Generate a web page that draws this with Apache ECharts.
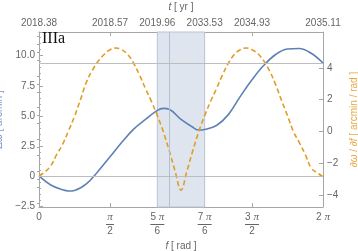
<!DOCTYPE html>
<html><head><meta charset="utf-8">
<script src="https://cdn.jsdelivr.net/npm/echarts@6/dist/echarts.min.js"></script>
<style>html,body{margin:0;padding:0;background:#fff}#c{width:358px;height:251px}</style>
</head><body><div id="c"></div>
<script>
// f sample positions in degrees (converted to rad scale only through the axis)
const blueDeg = [0,15,30,37.5,45,60,75,90,105,120,135,150,157.5,165,180,195,202.5,210,225,240,255,270,285,300,315,330,345,360];
const blueVals = [0,-0.75,-1.15,-1.25,-1.2,-0.65,0.4,1.6,2.8,3.9,4.7,5.45,5.62,5.55,4.7,4.05,3.82,3.87,4.2,5.1,6.6,8.0,9.2,10.1,10.55,10.6,10.2,9.39];
const orangeDeg = [0,7.5,15,22.5,30,37.5,45,52.5,60,67.5,75,82.5,90,97.5,105,112.5,120,127.5,135,142.5,150,157.5,165,172.5,180,187.5,195,202.5,210,217.5,225,232.5,240,247.5,255,262.5,270,277.5,285,292.5,300,307.5,315,322.5,330,337.5,345,352.5,360];
const orangeVals = [-2.80,-2.55,-2.15,-1.45,-0.8,0.05,0.95,2.0,3.1,3.85,4.42,4.85,5.15,5.26,5.15,4.85,4.3,3.55,2.7,1.9,1.0,0.0,-1.2,-2.5,-3.7,-2.5,-1.2,0.0,1.0,1.9,2.7,3.55,4.3,4.85,5.15,5.26,5.15,4.9,4.45,3.8,2.95,1.95,1.0,0.0,-0.7,-1.45,-2.3,-2.6,-2.85];

const xTickDeg = [0,90,150,210,270,360];
const xTickExtra = [180];
const xTickNum = ['0','π/2','5π/6','7π/6','3π/2','2π'];
const topTickLabels = ['2018.38','2018.57','2019.96','2033.53','2034.93','2035.11'];
const bandDeg = [150,210];
const markerDeg = [165.2];
const refLevels = [0, 9.39];
const leftTicks = [-2.5,0,2.5,5,7.5,10];
const rightTicks = [-4,-2,0,2,4];

const BLUE = '#5e81b5', ORANGE = '#e19c24', AX = '#a6a6a6', LBL = '#666';
const FONT = 'Liberation Sans';

function minorList(lo, hi, step, majors){
  const out=[]; for(let v=Math.ceil(lo/step)*step; v<=hi+1e-9; v+=step){
    const r=Math.round(v*100)/100; if(!majors.some(m=>Math.abs(m-r)<1e-6)) out.push(r);} return out;
}
const L_MIN=-2.58, L_MAX=11.97, R_MIN=-4.76, R_MAX=6.27;

function bottomLabel(v){
  const i = xTickDeg.indexOf(v); const s = xTickNum[i];
  if(s==='0') return '{n|0}';
  if(s==='2π') return '{n|2 }{p|π}';
  const [num, den] = s.split('/');
  const coef = num.replace('π','');
  const top = coef ? '{n|'+coef+' }{p|π}' : '{p|π}';
  return top + '\n' + (coef ? '{b2| }' : '{b1| }') + '\n{d|'+den+'}';
}
const richX = {
  n:{fontFamily:FONT,fontSize:10,color:LBL,lineHeight:11},
  p:{fontFamily:'Liberation Serif',fontStyle:'italic',fontSize:11,color:LBL,lineHeight:11},
  d:{fontFamily:FONT,fontSize:10,color:LBL,lineHeight:11},
  b1:{width:8,height:1,lineHeight:3,fontSize:1,backgroundColor:LBL},
  b2:{width:14,height:1,lineHeight:3,fontSize:1,backgroundColor:LBL}
};

const chart = echarts.init(document.getElementById('c'), null, {renderer:'canvas'});
const baseX = {
  type:'value', min:0, max:360,
  axisLine:{show:true,onZero:false,lineStyle:{color:AX,width:1}},
  splitLine:{show:false}
};
const baseY = {type:'value', splitLine:{show:false}, axisLine:{show:true,onZero:false,lineStyle:{color:AX,width:1}}};

chart.setOption({
  animation:false,
  grid:{left:39,right:35,top:32,bottom:44,containLabel:false,outerBoundsMode:'none'},
  graphic:[{type:'text',left:42,top:31,z:10,style:{text:'IIIa',font:'16px "Liberation Serif"',fill:'#111'}}],
  xAxis:[
    Object.assign({},baseX,{position:'bottom',
      axisTick:{inside:true,length:4,customValues:xTickDeg.concat(xTickExtra),lineStyle:{color:AX}},
      axisLabel:{customValues:xTickDeg,margin:5,formatter:bottomLabel,rich:richX,color:LBL,showMinLabel:true,showMaxLabel:true},
      name:'{i|f}{n| [ rad ]}',nameLocation:'middle',nameGap:30,
      nameTextStyle:{rich:{i:{fontFamily:FONT,fontStyle:'italic',fontSize:10,color:LBL},n:{fontFamily:FONT,fontSize:10,color:LBL}}}
    }),
    Object.assign({},baseX,{position:'top',
      axisTick:{inside:true,length:4,customValues:xTickDeg.concat(xTickExtra),lineStyle:{color:AX}},
      axisLabel:{customValues:xTickDeg,margin:4,color:LBL,fontFamily:FONT,fontSize:10,showMinLabel:true,showMaxLabel:true,
        formatter:(v)=>topTickLabels[xTickDeg.indexOf(v)]},
      name:'{i|t}{n| [ yr ]}',nameLocation:'middle',nameGap:20,
      nameTextStyle:{rich:{i:{fontFamily:FONT,fontStyle:'italic',fontSize:10,color:LBL},n:{fontFamily:FONT,fontSize:10,color:LBL}}}
    })
  ],
  yAxis:[
    Object.assign({},baseY,{position:'left',min:L_MIN,max:L_MAX,
      axisTick:{inside:true,length:4,customValues:leftTicks,lineStyle:{color:AX}},
      axisLabel:{customValues:leftTicks,margin:4,color:LBL,fontFamily:FONT,fontSize:10,
        formatter:(v)=> v===0?'0':(v<0?'−':'')+Math.abs(v).toFixed(1)},
      name:'{n|Δ}{i|ω}{n| [ arcmin ]}',nameLocation:'middle',nameGap:29,nameRotate:90,
      nameTextStyle:{rich:{i:{fontFamily:FONT,fontStyle:'italic',fontSize:10,color:'#7b98c6'},n:{fontFamily:FONT,fontSize:10,color:'#7b98c6'}}}
    }),
    Object.assign({},baseY,{position:'right',min:R_MIN,max:R_MAX,
      axisTick:{inside:true,length:4,customValues:rightTicks,lineStyle:{color:AX}},
      axisLabel:{customValues:rightTicks,margin:4,color:LBL,fontFamily:FONT,fontSize:10,
        formatter:(v)=> v<0?'−'+Math.abs(v):''+v},
      name:'{i|∂ω}{n| / }{i|∂f}{n| [ arcmin / rad ]}',nameLocation:'middle',nameGap:22,nameRotate:90,
      nameTextStyle:{rich:{i:{fontFamily:FONT,fontStyle:'italic',fontSize:10,color:'#e8a843'},n:{fontFamily:FONT,fontSize:10,color:'#e8a843'}}}
    }),
    Object.assign({},baseY,{position:'left',min:L_MIN,max:L_MAX,axisLine:{show:false},axisLabel:{show:false},
      axisTick:{inside:true,length:2,customValues:minorList(L_MIN,L_MAX,0.5,leftTicks),lineStyle:{color:AX}}}),
    Object.assign({},baseY,{position:'right',min:R_MIN,max:R_MAX,axisLine:{show:false},axisLabel:{show:false},
      axisTick:{inside:true,length:2,customValues:minorList(R_MIN,R_MAX,0.5,rightTicks),lineStyle:{color:AX}}})
  ],
  series:[
    {type:'line',xAxisIndex:0,yAxisIndex:0,data:[],z:1,silent:true,
      markArea:{silent:true,itemStyle:{color:'#dfe5ef',borderColor:'#b9c4d8',borderWidth:1},
        data:[[{xAxis:bandDeg[0]},{xAxis:bandDeg[1]}]]},
      markLine:{silent:true,symbol:'none',label:{show:false},
        data:[
          {xAxis:markerDeg[0],lineStyle:{color:'#b4bfd3',width:1,type:'solid'}},
          {yAxis:refLevels[0],lineStyle:{color:'#bdbdbd',width:1,type:'solid'}},
          {yAxis:refLevels[1],lineStyle:{color:'#bdbdbd',width:1,type:'solid'}}
        ]}},
    {type:'line',xAxisIndex:0,yAxisIndex:0,z:3,symbol:'none',smooth:0.4,
      data:blueDeg.map((d,i)=>[d,blueVals[i]]),lineStyle:{color:BLUE,width:1.6}},
    {type:'line',xAxisIndex:0,yAxisIndex:1,z:4,symbol:'none',smooth:0.4,
      data:orangeDeg.map((d,i)=>[d,orangeVals[i]]),lineStyle:{color:ORANGE,width:1.6,type:[5,3]}}
  ]
});
</script></body></html>
